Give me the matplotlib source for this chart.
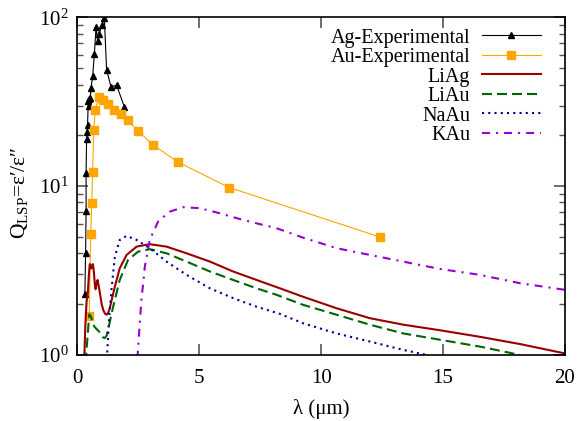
import matplotlib
matplotlib.use('Agg')
import matplotlib.pyplot as plt
from matplotlib.ticker import LogLocator, FixedLocator, NullFormatter

plt.rcParams['font.family'] = ['Liberation Serif', 'DejaVu Serif']
plt.rcParams['mathtext.fontset'] = 'custom'
plt.rcParams['mathtext.rm'] = 'Liberation Serif'
plt.rcParams['mathtext.it'] = 'Liberation Serif:italic'

# experimental data (wavelength in um, Q)
ag_x = [0.31, 0.34, 0.36, 0.36, 0.38, 0.40, 0.42, 0.45, 0.47, 0.49, 0.53, 0.56,
        0.63, 0.70, 0.77, 0.83, 0.90, 1.0, 1.11, 1.2, 1.38, 1.61, 1.93]
ag_y = [2.3, 4.0, 7.1, 11.9, 18.9, 21, 23, 31.9, 30, 33, 33.3, 38,
        44.9, 61, 88, 72, 80, 90, 98.6, 49, 38.8, 39.6, 29.5]

au_x = [0.49, 0.55, 0.59, 0.63, 0.67, 0.74, 0.88, 1.05, 1.25, 1.52, 1.79, 2.07,
        2.48, 3.09, 4.12, 6.24, 12.4]
au_y = [1.70, 5.2, 7.9, 12.1, 21.4, 28.4, 33.8, 32.6, 30.7, 28.4, 26.6, 24.5,
        21.3, 17.6, 13.9, 9.8, 5.0]

# calculated curves
liag_x = [0.29, 0.33, 0.38, 0.43, 0.47, 0.51, 0.54, 0.57, 0.61, 0.64, 0.68, 0.72,
          0.75, 0.80, 0.83, 0.88, 0.92, 1.0, 1.06, 1.13, 1.20, 1.27, 1.33, 1.54,
          1.74, 2.02, 2.43, 2.97, 3.66, 4.48, 5.44, 6.39, 7.35, 8.31, 9.26, 10.63,
          12.0, 13.37, 14.87, 16.51, 18.15, 20]
liag_y = [1.0, 1.5, 2.07, 2.3, 2.91, 3.45, 3.42, 3.25, 3.3, 3.45, 3.1, 2.6,
          2.45, 2.7, 2.78, 2.55, 2.35, 2.0, 1.85, 1.76, 1.73, 1.78, 1.89, 2.54,
          3.26, 3.91, 4.38, 4.53, 4.38, 4.0, 3.57, 3.12, 2.78, 2.48, 2.21, 1.89,
          1.65, 1.51, 1.40, 1.28, 1.16, 1.02]

liau_x = [0.33, 0.36, 0.42, 0.49, 0.55, 0.70, 0.90, 1.05, 1.13, 1.20, 1.26, 1.47,
          1.74, 2.08, 2.49, 2.97, 3.66, 4.48, 5.44, 6.39, 7.35, 8.17, 9.26, 10.63,
          12.0, 13.37, 14.87, 16.51, 18.15]
liau_y = [0.9, 1.0, 1.28, 1.74, 1.70, 1.47, 1.37, 1.27, 1.26, 1.30, 1.41, 1.93,
          2.78, 3.65, 4.09, 4.23, 4.0, 3.57, 3.12, 2.78, 2.48, 2.27, 1.98, 1.73,
          1.51, 1.34, 1.23, 1.12, 1.0]

naau_x = [1.19, 1.22, 1.31, 1.40, 1.54, 1.74, 2.02, 2.43, 2.97, 3.66, 4.48, 5.44,
          6.39, 7.35, 8.31, 9.26, 10.63, 12.0, 13.37, 14.33]
naau_y = [0.95, 1.0, 1.69, 2.43, 3.82, 4.80, 5.07, 4.80, 4.29, 3.57, 2.98, 2.48,
          2.17, 1.93, 1.75, 1.54, 1.34, 1.20, 1.07, 1.0]

kau_x = [2.46, 2.49, 2.56, 2.63, 2.77, 2.97, 3.31, 3.79, 4.34, 5.03, 5.85, 6.80,
         8.17, 9.26, 10.63, 12.0, 13.37, 14.87, 16.51, 18.15, 20]
kau_y = [0.95, 1.07, 1.54, 2.12, 3.34, 4.80, 6.16, 7.06, 7.5, 7.4, 6.9, 6.3,
         5.63, 4.95, 4.29, 3.91, 3.57, 3.23, 2.98, 2.66, 2.43]

fig = plt.figure(figsize=(5.8, 4.21), dpi=100)
ax = fig.add_axes([0.1333, 0.157, 0.8408, 0.8018])

ax.plot(ag_x, ag_y, color='black', lw=0.8, marker='^', ms=4.2, label='Ag-Experimental')
ax.plot(au_x, au_y, color='#ffa500', lw=0.8, marker='s', ms=5.5, label='Au-Experimental')
ax.plot(liag_x, liag_y, color='#990000', lw=1.5, label='LiAg')
ax.plot(liau_x, liau_y, color='#006400', lw=1.5, dashes=(4.8, 2.4), label='LiAu')
ax.plot(naau_x, naau_y, color='#000090', lw=1.5, dashes=(1, 2), label='NaAu')
ax.plot(kau_x, kau_y, color='#9400d3', lw=1.5, dashes=(3.8, 2.9, 1, 2.9), label='KAu')

ax.set_yscale('log')
ax.set_xlim(0, 20)
ax.set_ylim(1, 100)
ax.xaxis.set_major_locator(FixedLocator([0, 5, 10, 15, 20]))
ax.yaxis.set_major_locator(LogLocator(base=10, numticks=5))
ax.yaxis.set_minor_locator(LogLocator(base=10, subs=range(2, 10), numticks=20))
ax.yaxis.set_minor_formatter(NullFormatter())

ax.tick_params(which='both', direction='in', top=True, right=True, labelsize=15,
               color='#555555')
ax.tick_params(which='major', length=8, width=1.2)
ax.tick_params(which='minor', length=4, width=1)
ax.tick_params(axis='x', pad=10)
ax.tick_params(axis='y', pad=6)
for s in ax.spines.values():
    s.set_linewidth(1.2)

ax.set_xlabel('λ (μm)', fontsize=15, labelpad=8)
ax.set_ylabel('Q$_{\\mathrm{LSP}}$=ε′/ε″', fontsize=15.5)
ax.yaxis.set_label_coords(-0.097, 0.48)

leg = ax.legend(loc='upper right', markerfirst=False, frameon=False, fontsize=14.5,
                labelspacing=0.02, handlelength=2.9, handletextpad=0.6,
                bbox_to_anchor=(0.979, 1.009), borderaxespad=0.3)

fig.savefig('out.png', dpi=100)
